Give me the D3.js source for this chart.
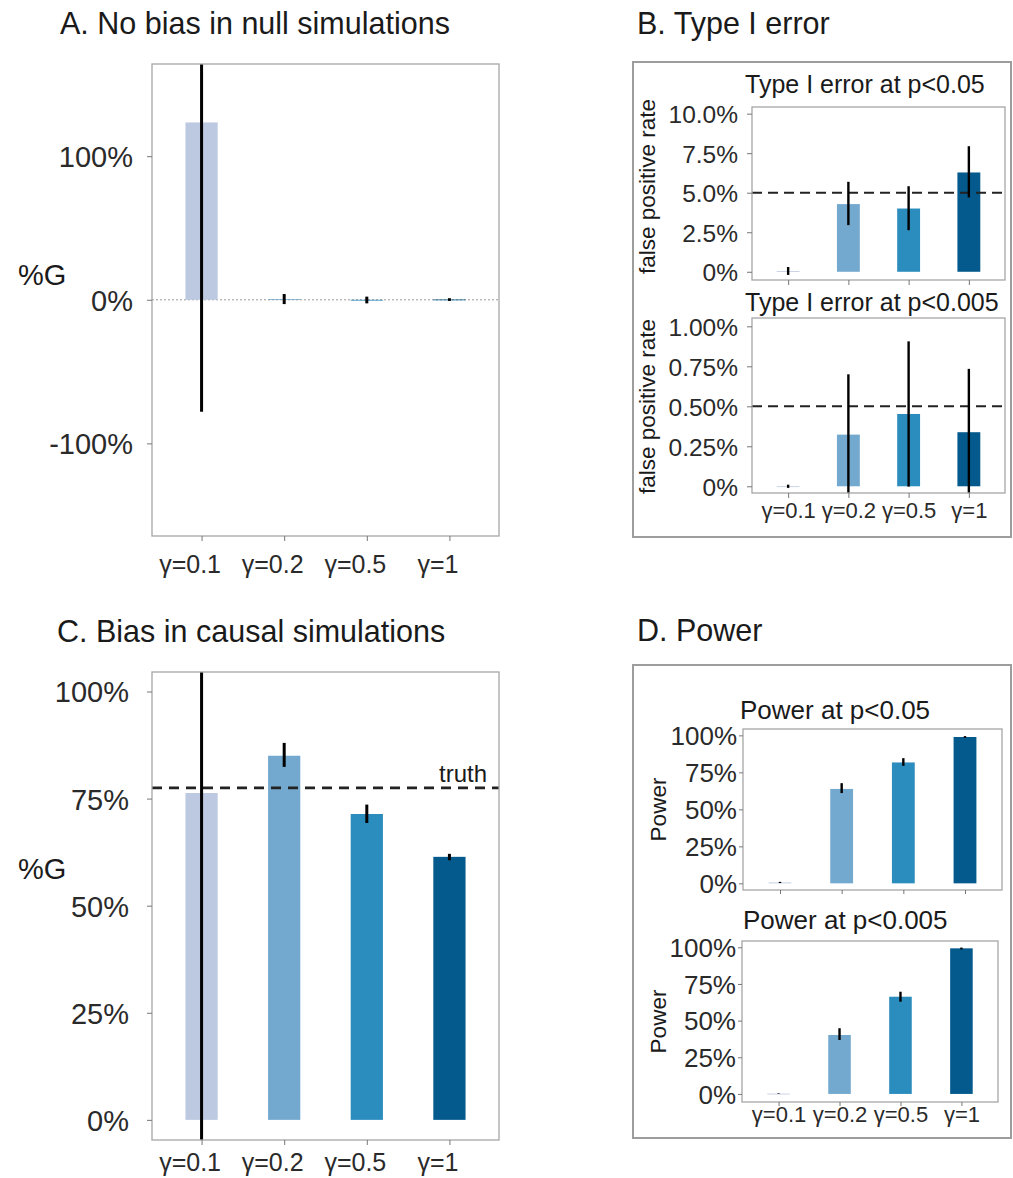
<!DOCTYPE html>
<html>
<head>
<meta charset="utf-8">
<script src="https://cdn.jsdelivr.net/npm/d3@7"></script>
<style>
  html, body { margin: 0; padding: 0; background: #fff; }
  svg { display: block; }
  text { font-family: "Liberation Sans", Arial, Helvetica, sans-serif; }
</style>
</head>
<body>
<svg id="chart" width="1013" height="1178"></svg>
<script>
// ---------------- DATA ----------------
const categories = ["γ=0.1", "γ=0.2", "γ=0.5", "γ=1"];
const barColors = ["#bdc9e1", "#74a9cf", "#2b8cbe", "#045a8d"];

// A. %G estimates in null simulations (fraction)
const nullMean = [1.235, 0.005, -0.002, 0.002];
const nullLow  = [-0.78, -0.030, -0.025, -0.008];
const nullHigh = [3.25, 0.040, 0.022, 0.011];
const nullTicks = [-1, 0, 1];
const nullTickLabels = ["-100%", "0%", "100%"];

// C. %G estimates in causal simulations (fraction)
const causalMean = [0.763, 0.850, 0.714, 0.614];
const causalLow  = [-1.5, 0.824, 0.693, 0.606];
const causalHigh = [3.0, 0.880, 0.736, 0.621];
const truthValue = 0.775;
const causalTicks = [0, 0.25, 0.5, 0.75, 1];
const causalTickLabels = ["0%", "25%", "50%", "75%", "100%"];

// B. Type I error (false positive rate)
const fpr05Mean = [0.0004, 0.0428, 0.0400, 0.0628];
const fpr05Low  = [-0.002, 0.0295, 0.0263, 0.0470];
const fpr05High = [0.003, 0.0569, 0.0541, 0.0794];
const fpr05Ticks = [0, 0.025, 0.05, 0.075, 0.1];
const fpr05TickLabels = ["0%", "2.5%", "5.0%", "7.5%", "10.0%"];

const fpr005Mean = [0, 0.00323, 0.00452, 0.00338];
const fpr005Low  = [-0.0001, -0.0006, -0.00002, -0.0006];
const fpr005High = [0.0001, 0.0070, 0.00906, 0.00734];
const fpr005Ticks = [0, 0.0025, 0.005, 0.0075, 0.01];
const fpr005TickLabels = ["0%", "0.25%", "0.50%", "0.75%", "1.00%"];

// D. Power
const power05Mean = [0.006, 0.638, 0.817, 0.989];
const power05Low  = [0.002, 0.610, 0.794, 0.983];
const power05High = [0.010, 0.677, 0.846, 0.995];
const power005Mean = [0.002, 0.402, 0.663, 0.993];
const power005Low  = [0.000, 0.368, 0.629, 0.986];
const power005High = [0.004, 0.448, 0.697, 0.998];
const powerTicks = [0, 0.25, 0.5, 0.75, 1];
const powerTickLabels = ["0%", "25%", "50%", "75%", "100%"];

// ---------------- DRAWING ----------------
const svg = d3.select("#chart");
const defs = svg.append("defs");
const TXT = "#1a1a1a";
const TICKTXT = "#2a2a2a";
const FRAME = "#a6a6a6";
let clipCount = 0;

function panel(cfg) {
  const g = svg.append("g");
  const x = d3.scalePoint().domain(categories).range([cfg.left, cfg.right]).padding(0.6);
  const y = d3.scaleLinear().domain(cfg.domain).range([cfg.bottom, cfg.top]);
  const id = "clip" + (clipCount++);
  defs.append("clipPath").attr("id", id).append("rect")
    .attr("x", cfg.left).attr("y", cfg.top)
    .attr("width", cfg.right - cfg.left).attr("height", cfg.bottom - cfg.top);
  const plot = g.append("g").attr("clip-path", `url(#${id})`);

  const bw = x.step() * cfg.barFrac;
  const rows = categories.map((c, i) => ({c, i, m: cfg.mean[i], lo: cfg.low[i], hi: cfg.high[i]}));

  if (cfg.zeroDotted) {
    plot.append("line")
      .attr("x1", cfg.left).attr("x2", cfg.right)
      .attr("y1", y(0)).attr("y2", y(0))
      .attr("stroke", "#9a9a9a").attr("stroke-width", 1)
      .attr("stroke-dasharray", "2,2");
  }

  plot.selectAll("rect.bar").data(rows).join("rect")
    .attr("class", "bar")
    .attr("x", d => x(d.c) - bw / 2)
    .attr("width", bw)
    .attr("y", d => Math.min(y(d.m), y(0)))
    .attr("height", d => Math.max(Math.abs(y(d.m) - y(0)), 0.8))
    .attr("fill", d => barColors[d.i]);

  if (cfg.refValue !== undefined) {
    plot.append("line")
      .attr("x1", cfg.left).attr("x2", cfg.right)
      .attr("y1", y(cfg.refValue)).attr("y2", y(cfg.refValue))
      .attr("stroke", "#222").attr("stroke-width", cfg.refWidth)
      .attr("stroke-dasharray", cfg.refDash);
  }

  plot.selectAll("line.err").data(rows).join("line")
    .attr("class", "err")
    .attr("x1", d => x(d.c)).attr("x2", d => x(d.c))
    .attr("y1", d => y(d.hi)).attr("y2", d => y(d.lo))
    .attr("stroke", "#000").attr("stroke-width", cfg.errWidth);

  g.append("rect")
    .attr("x", cfg.left).attr("y", cfg.top)
    .attr("width", cfg.right - cfg.left).attr("height", cfg.bottom - cfg.top)
    .attr("fill", "none").attr("stroke", FRAME).attr("stroke-width", 1.3);

  // y axis
  const ya = g.append("g").attr("transform", `translate(${cfg.left},0)`)
    .call(d3.axisLeft(y).tickValues(cfg.ticks)
      .tickFormat((d, i) => cfg.tickLabels[i])
      .tickSize(cfg.tickLen).tickPadding(cfg.tickPad));
  ya.select(".domain").remove();
  ya.selectAll(".tick line").attr("stroke", "#777").attr("stroke-width", 1);
  ya.selectAll(".tick text").attr("fill", TICKTXT)
    .style("font-size", cfg.yFont + "px").attr("dy", "0.36em");

  // x axis
  const xa = g.append("g").attr("transform", `translate(0,${cfg.bottom})`)
    .call(d3.axisBottom(x).tickSize(cfg.tickLen).tickFormat(cfg.xLabels ? (d => d) : () => ""));
  xa.select(".domain").remove();
  xa.selectAll(".tick line").attr("stroke", "#777").attr("stroke-width", 1);
  xa.selectAll(".tick text").attr("fill", TICKTXT)
    .style("font-size", cfg.xFont + "px")
    .attr("x", cfg.xShift || 0)
    .attr("y", cfg.xLabelBase - cfg.bottom).attr("dy", 0);

  if (cfg.yTitle) {
    const cy = (cfg.top + cfg.bottom) / 2 + (cfg.yTitleShift || 0);
    g.append("text")
      .attr("transform", `translate(${cfg.yTitleX},${cy}) rotate(-90)`)
      .attr("text-anchor", "middle").attr("dy", "0.36em")
      .attr("fill", TXT).style("font-size", cfg.yTitleFont + "px")
      .text(cfg.yTitle);
  }
  if (cfg.title) {
    g.append("text").attr("x", cfg.titleX).attr("y", cfg.titleBase)
      .attr("fill", TXT).style("font-size", cfg.titleFont + "px")
      .text(cfg.title);
  }
  return {x, y, g};
}

function heading(txt, x, yb) {
  svg.append("text").attr("x", x).attr("y", yb)
    .attr("fill", TXT).style("font-size", "30.5px").text(txt);
}

function box(x0, y0, x1, y1) {
  svg.append("rect").attr("x", x0).attr("y", y0)
    .attr("width", x1 - x0).attr("height", y1 - y0)
    .attr("fill", "none").attr("stroke", "#9d9d9d").attr("stroke-width", 2);
}

// ---- Panel A ----
heading("A. No bias in null simulations", 60, 34);
panel({
  left: 152, right: 499, top: 64, bottom: 536,
  domain: [-1.645, 1.642], ticks: nullTicks, tickLabels: nullTickLabels,
  mean: nullMean, low: nullLow, high: nullHigh,
  barFrac: 0.39, errWidth: 3, zeroDotted: true,
  tickLen: 5, tickPad: 14, yFont: 29,
  xLabels: true, xFont: 25, xLabelBase: 573, xShift: -12
});
svg.append("text").attr("x", 18).attr("y", 285).attr("fill", TXT)
  .style("font-size", "29px").text("%G");

// ---- Panel C ----
heading("C. Bias in causal simulations", 57, 642);
const pc = panel({
  left: 152, right: 499, top: 672, bottom: 1140,
  domain: [-0.047, 1.0455], ticks: causalTicks, tickLabels: causalTickLabels,
  mean: causalMean, low: causalLow, high: causalHigh,
  barFrac: 0.39, errWidth: 3,
  refValue: truthValue, refWidth: 2.8, refDash: "10,7",
  tickLen: 5, tickPad: 18, yFont: 29,
  xLabels: true, xFont: 25, xLabelBase: 1171, xShift: -12
});
svg.append("text").attr("x", 487).attr("y", pc.y(truthValue) - 6)
  .attr("text-anchor", "end").attr("fill", TXT).style("font-size", "24px").text("truth");
svg.append("text").attr("x", 18).attr("y", 879).attr("fill", TXT)
  .style("font-size", "29px").text("%G");

// ---- Panel B ----
heading("B. Type I error", 637, 34);
box(633, 62, 1011, 537);
panel({
  left: 752, right: 1005, top: 107, bottom: 280,
  domain: [-0.0052, 0.1042], ticks: fpr05Ticks, tickLabels: fpr05TickLabels,
  mean: fpr05Mean, low: fpr05Low, high: fpr05High,
  barFrac: 0.38, errWidth: 2.4,
  refValue: 0.05, refWidth: 2, refDash: "10,6",
  tickLen: 5, tickPad: 9, yFont: 24.5,
  xLabels: false, xFont: 22, xLabelBase: 0,
  yTitle: "false positive rate", yTitleX: 647, yTitleFont: 22.5, yTitleShift: -7,
  title: "Type I error at p<0.05", titleX: 745, titleBase: 93, titleFont: 25
});
panel({
  left: 752, right: 1005, top: 318, bottom: 493,
  domain: [-0.00042, 0.01052], ticks: fpr005Ticks, tickLabels: fpr005TickLabels,
  mean: fpr005Mean, low: fpr005Low, high: fpr005High,
  barFrac: 0.38, errWidth: 2.4,
  refValue: 0.005, refWidth: 2, refDash: "10,6",
  tickLen: 5, tickPad: 9, yFont: 24.5,
  xLabels: true, xFont: 22, xLabelBase: 518,
  yTitle: "false positive rate", yTitleX: 647, yTitleFont: 22.5, yTitleShift: 1,
  title: "Type I error at p<0.005", titleX: 745, titleBase: 311, titleFont: 25
});

// ---- Panel D ----
heading("D. Power", 637, 641);
box(633, 665, 1011, 1138);
panel({
  left: 743, right: 1002, top: 729, bottom: 890,
  domain: [-0.045, 1.043], ticks: powerTicks, tickLabels: powerTickLabels,
  mean: power05Mean, low: power05Low, high: power05High,
  barFrac: 0.37, errWidth: 2.4,
  tickLen: 4, tickPad: 2, yFont: 26,
  xLabels: false, xFont: 22, xLabelBase: 0,
  yTitle: "Power", yTitleX: 658, yTitleFont: 22.5,
  title: "Power at p<0.05", titleX: 740, titleBase: 719, titleFont: 26
});
panel({
  left: 742, right: 998, top: 941, bottom: 1102,
  domain: [-0.055, 1.043], ticks: powerTicks, tickLabels: powerTickLabels,
  mean: power005Mean, low: power005Low, high: power005High,
  barFrac: 0.37, errWidth: 2.4,
  tickLen: 4, tickPad: 2, yFont: 26,
  xLabels: true, xFont: 22, xLabelBase: 1122,
  yTitle: "Power", yTitleX: 658, yTitleFont: 22.5,
  title: "Power at p<0.005", titleX: 743, titleBase: 929, titleFont: 26
});
</script>
</body>
</html>
